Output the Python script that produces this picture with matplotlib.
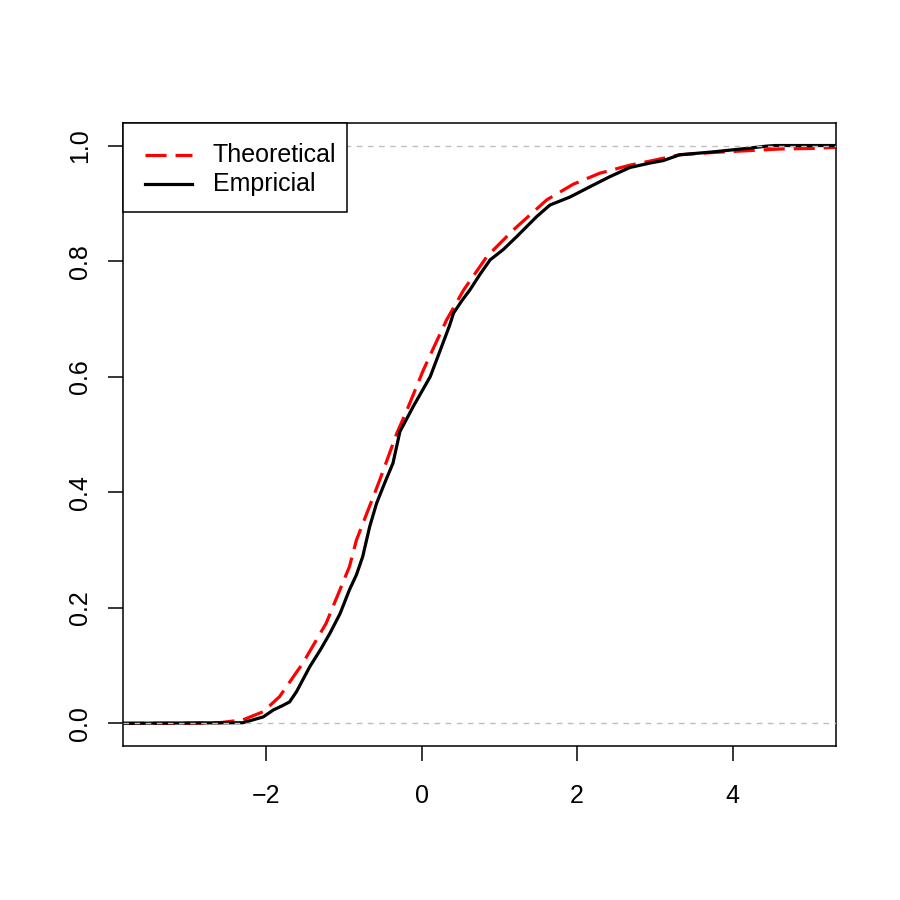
import matplotlib
matplotlib.use("Agg")
from matplotlib import pyplot as plt
from matplotlib.patches import Rectangle

# Data (x, cumulative probability)
theo_x = [-3.84, -3.0, -2.6, -2.30, -2.04, -1.83, -1.53, -1.23, -0.93, -0.84, -0.54,
          -0.32, -0.19, 0.02, 0.15, 0.32, 0.54, 0.84, 1.18, 1.61, 1.95, 2.29, 2.68,
          2.90, 3.32, 3.75, 4.18, 4.61, 5.04, 5.33]
theo_y = [0.0, 0.0, 0.001, 0.006, 0.020, 0.046, 0.104, 0.173, 0.271, 0.317, 0.421,
          0.502, 0.542, 0.611, 0.649, 0.698, 0.750, 0.808, 0.854, 0.906, 0.933, 0.952, 0.966,
          0.972, 0.984, 0.988, 0.991, 0.994, 0.995, 0.997]

emp_x = [-3.84, -2.30, -2.04, -1.91, -1.80, -1.70, -1.61, -1.44, -1.30, -1.18, -1.05,
         -0.93, -0.84, -0.76, -0.67, -0.58, -0.47, -0.37, -0.28, -0.11, 0.11, 0.24,
         0.36, 0.41, 0.52, 0.62, 0.75, 0.88, 1.05, 1.22, 1.48, 1.65, 1.91, 2.17,
         2.42, 2.68, 2.95, 3.11, 3.32, 3.75, 4.18, 4.44, 4.55, 5.33]
emp_y = [0.0, 0.001, 0.011, 0.023, 0.030, 0.037, 0.055, 0.098, 0.128, 0.156, 0.190,
         0.231, 0.257, 0.288, 0.340, 0.381, 0.418, 0.450, 0.505, 0.548, 0.600, 0.646,
         0.689, 0.710, 0.732, 0.750, 0.777, 0.802, 0.820, 0.842, 0.877, 0.897, 0.911, 0.929,
         0.946, 0.962, 0.970, 0.974, 0.984, 0.989, 0.995, 0.999, 1.0, 1.0]

x_ticks = [-2, 0, 2, 4]
y_ticks = [0.0, 0.2, 0.4, 0.6, 0.8, 1.0]
ref_levels = [0.0, 1.0]
legend_labels = ['Theoretical', 'Empricial']

RED_DASH = (6.6, 2.8)

plt.rcParams['font.family'] = ['Liberation Sans', 'DejaVu Sans']

fig = plt.figure(figsize=(9, 9), dpi=100)
ax = fig.add_axes([123/900, 154/900, 713/900, 623/900])

# theoretical first, ecdf over it, grey guide lines on top (like plot.ecdf)
ax.plot(theo_x, theo_y, color='red', lw=2.3, dashes=RED_DASH, zorder=2)
ax.plot(emp_x, emp_y, color='black', lw=2.3, solid_joinstyle='round', zorder=3)
for lev in ref_levels:
    ax.axhline(lev, color='#bebebe', lw=1.0, dashes=(4, 4), zorder=4)

ax.set_xlim(-3.844, 5.332)
ax.set_ylim(-0.0393, 1.039)
ax.set_xticks(x_ticks)
ax.set_xticklabels(['\u22122', '0', '2', '4'])
ax.set_yticks(y_ticks)
ax.set_yticklabels(['0.0', '0.2', '0.4', '0.6', '0.8', '1.0'], rotation=90, va='center')
ax.tick_params(direction='out', length=10.5, width=1.1, labelsize=18)
ax.tick_params(axis='x', pad=17)
ax.tick_params(axis='y', pad=12)
for s in ax.spines.values():
    s.set_linewidth(1.1)

# R-style legend box in the top-left corner (axes fractions)
tr = ax.transAxes
ax.add_patch(Rectangle((0, 0.857), 0.3142, 0.143, transform=tr, facecolor='white',
                       edgecolor='black', lw=1.1, zorder=5, clip_on=False))
ax.plot([0.0309, 0.0968], [0.9486, 0.9486], transform=tr, color='red', lw=2.3,
        dashes=RED_DASH, zorder=6)
ax.plot([0.0309, 0.0968], [0.9021, 0.9021], transform=tr, color='black', lw=2.3, zorder=6)
for lab, yy in zip(legend_labels, [0.9486, 0.9021]):
    ax.text(0.1262, yy, lab, transform=tr, fontsize=18, va='center', ha='left', zorder=6)

fig.savefig('out.png', dpi=100)
